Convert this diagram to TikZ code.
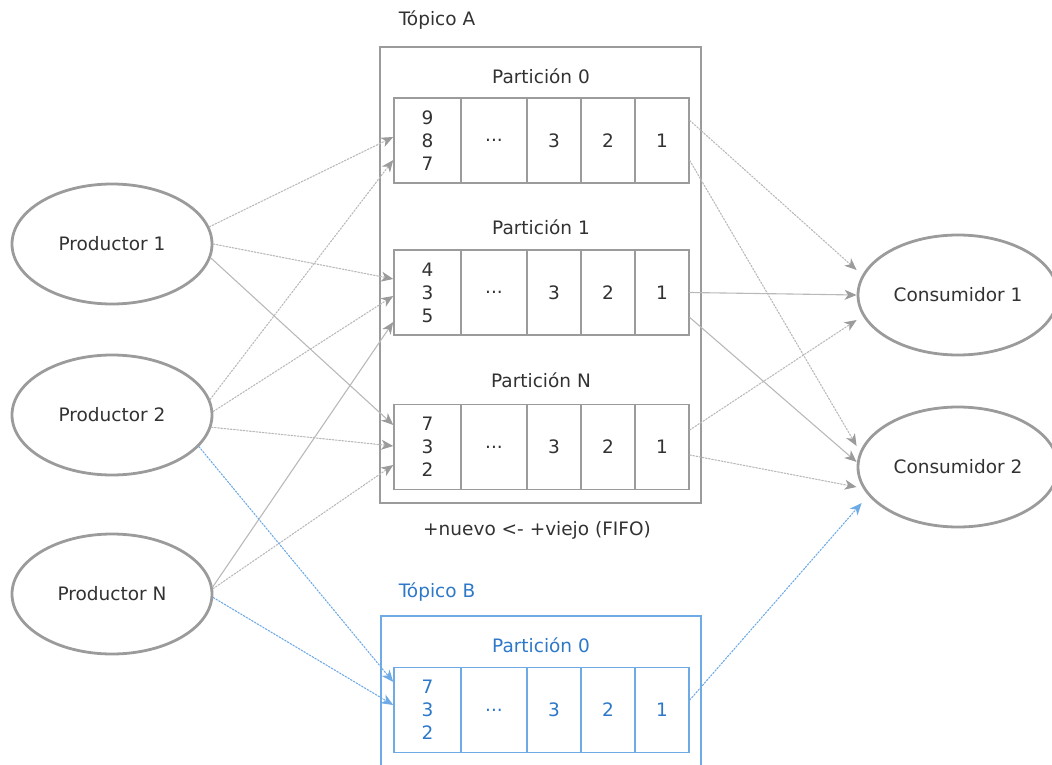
\documentclass[tikz,border=0pt]{standalone}
\usepackage{fontspec}
\setmainfont{DejaVu Sans}
\usetikzlibrary{shapes.geometric,arrows.meta,positioning}

\definecolor{lineagris}{RGB}{155,155,155}
\definecolor{flechagris}{RGB}{185,185,185}
\definecolor{textogris}{RGB}{50,50,50}
\definecolor{lineaazul}{RGB}{110,170,230}
\definecolor{textoazul}{RGB}{45,120,200}

\begin{document}
\begin{tikzpicture}[x=1pt,y=-1pt,line cap=round,
    font=\fontsize{18.5}{23}\selectfont, text=textogris]
      \useasboundingbox (0,0) rectangle (1052,765);

      \tikzstyle{myellipse}=[ellipse, draw=lineagris, line width=2.8pt, minimum width=200pt, minimum height=120pt];
      \tikzstyle{mycell}=[draw=lineagris, line width=1.5pt, minimum height=85pt, inner sep=0pt, align=center];
      \tikzstyle{myframe}=[draw=lineagris, line width=1.5pt];
      \tikzstyle{mydots}=[dash pattern=on 1.6pt off 1.6pt];
      \tikzstyle{flecha}=[draw=flechagris, line width=1.1pt, -{Stealth[length=12pt,width=10pt,inset=3.5pt,color=lineagris]}];
      \tikzstyle{flechaazul}=[draw=lineaazul, line width=1.1pt, mydots, -{Stealth[length=12pt,width=10pt,inset=3.5pt,color=lineaazul]}];

      % productores y consumidores
      \node[myellipse] (P1) at (112,244) {Productor 1};
      \node[myellipse] (P2) at (112,415) {Productor 2};
      \node[myellipse] (PN) at (112,594) {Productor N};
      \node[myellipse] (C1) at (958,295) {Consumidor 1};
      \node[myellipse] (C2) at (958,467) {Consumidor 2};

      % Topico A
      \draw[myframe] (380,47) rectangle (701,503);
      \node (TA) at (437,20) {Tópico A};
      \node (TAP0) at (541,76) {Partición 0};
      \node (TAP1) at (541,227) {Partición 1};
      \node (TAPN) at (541,380) {Partición N};
      \node (FIFO) at (537,530) {+nuevo <- +viejo (FIFO)};

      \node[mycell, minimum width=67pt] (A0n) at (427.5,140.5) {9\\8\\7};
      \node[mycell, minimum width=66pt] (A0d) at (494,140.5) {...};
      \node[mycell, minimum width=54pt] (A0c) at (554,140.5) {3};
      \node[mycell, minimum width=54pt] (A0b) at (608,140.5) {2};
      \node[mycell, minimum width=54pt] (A0v) at (662,140.5) {1};

      \node[mycell, minimum width=67pt] (A1n) at (427.5,292.5) {4\\3\\5};
      \node[mycell, minimum width=66pt] (A1d) at (494,292.5) {...};
      \node[mycell, minimum width=54pt] (A1c) at (554,292.5) {3};
      \node[mycell, minimum width=54pt] (A1b) at (608,292.5) {2};
      \node[mycell, minimum width=54pt] (A1v) at (662,292.5) {1};

      \node[mycell, minimum width=67pt] (ANn) at (427.5,447) {7\\3\\2};
      \node[mycell, minimum width=66pt] (ANd) at (494,447) {...};
      \node[mycell, minimum width=54pt] (ANc) at (554,447) {3};
      \node[mycell, minimum width=54pt] (ANb) at (608,447) {2};
      \node[mycell, minimum width=54pt] (ANv) at (662,447) {1};

      % Topico B
      \draw[myframe, draw=lineaazul] (381,616) rectangle (701,780);
      \node[text=textoazul] (TB) at (437,592) {Tópico B};
      \node[text=textoazul] (TBP0) at (541,645) {Partición 0};
      \tikzstyle{mycellazul}=[mycell, draw=lineaazul, text=textoazul];
      \node[mycellazul, minimum width=67pt] (B0n) at (427.5,710) {7\\3\\2};
      \node[mycellazul, minimum width=66pt] (B0d) at (494,710) {...};
      \node[mycellazul, minimum width=54pt] (B0c) at (554,710) {3};
      \node[mycellazul, minimum width=54pt] (B0b) at (608,710) {2};
      \node[mycellazul, minimum width=54pt] (B0v) at (662,710) {1};

      % productores -> particiones
      \draw[flecha, mydots] (P1.10) -- ([yshift=3.5pt]A0n.west);
      \draw[flecha, mydots] (P1.0) -- ([yshift=13.5pt]A1n.west);
      \draw[flecha] (P1.-8) -- ([yshift=22pt]ANn.west);
      \draw[flecha, mydots] (P2.9) -- ([yshift=-19.5pt]A0n.west);
      \draw[flecha, mydots] (P2.2) -- ([yshift=-3.5pt]A1n.west);
      \draw[flecha, mydots] (P2.-7) -- ([yshift=1pt]ANn.west);
      \draw[flecha] (PN.4) -- ([yshift=-29.5pt]A1n.west);
      \draw[flecha, mydots] (PN.3) -- ([yshift=-18pt]ANn.west);
      \draw[flechaazul] (P2.-20) -- ([yshift=28pt]B0n.west);
      \draw[flechaazul] (PN.-2) -- ([yshift=5pt]B0n.west);

      % particiones -> consumidores
      \draw[flecha, mydots] ([yshift=20pt]A0v.east) -- ([yshift=25pt]C1.west);
      \draw[flecha, mydots] ([yshift=-20pt]A0v.east) -- ([yshift=21pt]C2.west);
      \draw[flecha] (A1v.east) -- (C1.west);
      \draw[flecha] ([yshift=-25pt]A1v.east) -- ([yshift=5pt]C2.west);
      \draw[flecha, mydots] ([yshift=17pt]ANv.east) -- ([yshift=-25pt]C1.west);
      \draw[flecha, mydots] ([yshift=-8pt]ANv.east) -- ([yshift=-20pt]C2.west);
      \draw[flechaazul] ([yshift=10pt]B0v.east) -- ([xshift=5pt,yshift=-36pt]C2.west);
    \end{tikzpicture}
\end{document}
